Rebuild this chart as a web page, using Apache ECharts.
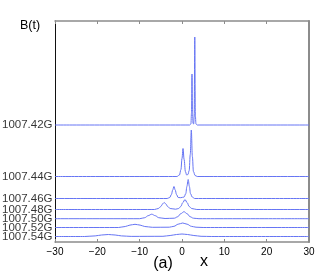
<!DOCTYPE html>
<html>
<head>
<meta charset="utf-8">
<script src="https://cdn.jsdelivr.net/npm/echarts@6/dist/echarts.min.js"></script>
<style>html,body{margin:0;padding:0;background:#fff;}#c{width:327px;height:273px;}</style>
</head>
<body>
<div id="c"></div>
<script>
// trace names (field values), top to bottom
const traceNames = ['1007.42G','1007.44G','1007.46G','1007.48G','1007.50G','1007.52G','1007.54G'];
// vertical offsets of each trace baseline (in y units)
const offsets = [117, 65.5, 43.5, 32.5, 23.3, 14.5, 5.5];

// traces: [x, B(t) above baseline]
const t42 = [[-30,0],[1.8,0],[2.1,1],[2.25,12],[2.36,51],[2.48,12],[2.62,1.5],[2.75,1],[2.88,8],[3.02,88],[3.15,10],[3.3,1],[3.6,0],[30,0]];
const t44 = [[-30,0],[-1.2,0],[-0.6,1.5],[-0.25,7],[0,18],[0.24,28],[0.5,17],[0.8,5],[1.1,1.5],[1.4,2],[1.7,6],[1.95,22],[2.2,46.5],[2.45,20],[2.7,5],[3.1,1],[3.6,0],[30,0]];
const t46 = [[-30,0],[-3.5,0],[-2.9,1],[-2.5,4],[-2.2,8.5],[-1.9,12],[-1.6,8.5],[-1.3,4],[-0.9,1],[-0.3,0.8],[0.5,1.5],[0.9,5],[1.15,12],[1.46,19],[1.75,12],[2.0,5],[2.4,1.5],[3.0,0],[30,0]];
const t48 = [[-30,0],[-6.5,0],[-5.6,1],[-5.0,3],[-4.6,5.5],[-4.2,7],[-3.8,5.5],[-3.4,3],[-2.8,1],[-1.5,0.3],[-0.8,1],[-0.3,3],[0.2,7],[0.7,10],[1.2,7],[1.7,3],[2.3,1],[3.5,0],[30,0]];
const t50 = [[-30,0],[-10,0],[-8.8,1],[-8.0,3],[-7.15,4.5],[-6.3,3],[-5.5,1],[-4,0.2],[-1.8,0.5],[-1.0,2],[-0.3,5],[0.47,7],[1.2,5],[1.9,2],[2.7,0.5],[4,0],[30,0]];
const t52 = [[-30,0],[-15,0],[-13.4,1],[-12.3,2.4],[-11.1,3.2],[-9.9,2.4],[-8.8,1],[-7,0.2],[-3,0.3],[-1.9,1.2],[-0.9,3.3],[0.17,4.5],[1.2,3.3],[2.2,1.2],[3.3,0.3],[5,0],[30,0]];
const t54 = [[-30,0],[-23,0],[-20.5,0.6],[-19,1.5],[-17.4,2],[-15.8,1.5],[-14.3,0.6],[-12,0.1],[-4.5,0.2],[-2.8,1],[-1.3,2],[0,2.5],[1.3,2],[2.8,1],[4.5,0.2],[7,0],[30,0]];
const traces = [t42, t44, t46, t48, t50, t52, t54];

const lineColor = '#6675f4';
const fam = 'Liberation Sans, Arial, Helvetica, sans-serif';

const chart = echarts.init(document.getElementById('c'), null, {renderer: 'canvas'});

const series = traces.map((t, i) => ({
  type: 'line',
  name: traceNames[i],
  data: t.map(p => [p[0], offsets[i] + p[1]]),
  showSymbol: false,
  smooth: 0.35,
  smoothMonotone: 'x',
  lineStyle: {color: lineColor, width: 1},
  silent: true
}));

// trace name labels placed at the start of each baseline
series.push({
  type: 'scatter',
  name: 'labels',
  data: traces.map((t, i) => ({value: [t[0][0], offsets[i] + t[0][1]], name: traceNames[i]})),
  symbol: 'circle',
  symbolSize: 1,
  itemStyle: {color: 'rgba(0,0,0,0)'},
  label: {show: true, position: 'left', distance: 2, formatter: p => p.name,
    color: '#000', fontSize: 11.5, fontFamily: fam},
  labelLayout: {hideOverlap: false},
  silent: true,
  z: 5
});

chart.setOption({
  animation: false,
  backgroundColor: '#fff',
  grid: {left: 55, right: 18, top: 21, bottom: 31, containLabel: false},
  xAxis: [{
    type: 'value', min: -30, max: 30, interval: 10, position: 'bottom',
    axisLine: {show: true, onZero: false, lineStyle: {color: '#8c8c8c', width: 1.5}},
    axisTick: {show: true, inside: true, length: 3, lineStyle: {color: '#8c8c8c'}},
    axisLabel: {margin: 5, color: '#000', fontSize: 10, fontFamily: fam,
      formatter: v => (v < 0 ? '\u2212' + Math.abs(v) : String(v))},
    splitLine: {show: false}
  }, {
    type: 'value', min: -30, max: 30, interval: 10, position: 'top',
    axisLine: {show: true, onZero: false, lineStyle: {color: '#8c8c8c', width: 1.5}},
    axisTick: {show: true, inside: true, length: 3, lineStyle: {color: '#8c8c8c'}},
    axisLabel: {show: false},
    splitLine: {show: false}
  }],
  yAxis: [{
    type: 'value', min: 0, max: 221, position: 'left',
    axisLine: {show: true, onZero: false, lineStyle: {color: '#111', width: 1}},
    axisTick: {show: false},
    axisLabel: {show: false},
    splitLine: {show: false}
  }, {
    type: 'value', min: 0, max: 221, position: 'right',
    axisLine: {show: true, onZero: false, lineStyle: {color: '#8c8c8c', width: 2}},
    axisTick: {show: false},
    axisLabel: {show: false},
    splitLine: {show: false}
  }],
  graphic: [
    {type: 'text', left: 20, top: 19, style: {text: 'B(t)', font: '12.5px ' + fam, fill: '#000'}},
    {type: 'text', x: 163, y: 264, style: {text: '(a)', font: '16px ' + fam, fill: '#000', align: 'center', verticalAlign: 'middle'}},
    {type: 'text', x: 204, y: 262, style: {text: 'x', font: '16px ' + fam, fill: '#000', align: 'center', verticalAlign: 'middle'}}
  ],
  series: series
});
</script>
</body>
</html>
